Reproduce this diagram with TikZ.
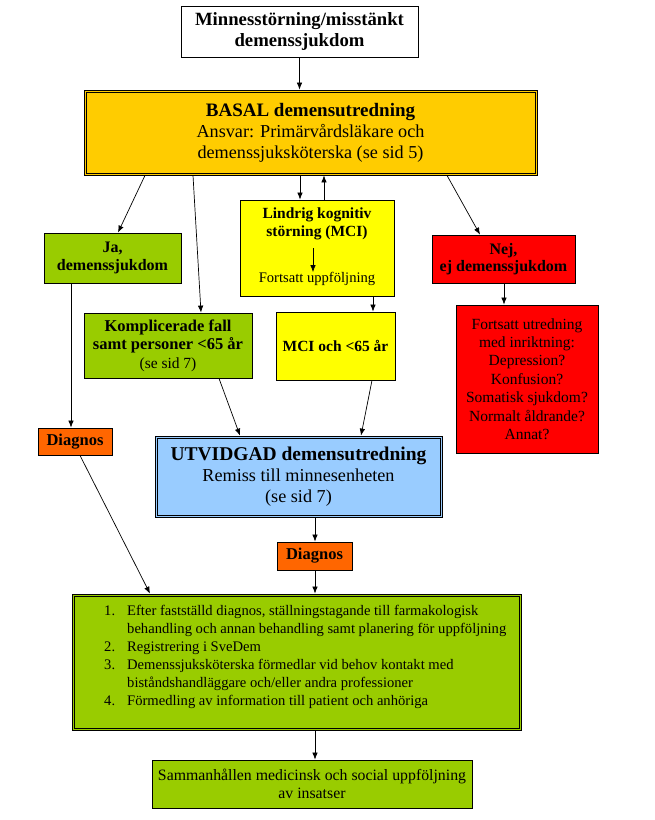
\documentclass[tikz,border=0pt]{standalone}
\usepackage{fontspec}
\setmainfont{Liberation Serif}
\usetikzlibrary{arrows.meta}
\definecolor{cgold}{HTML}{FFCC00}
\definecolor{cyel}{HTML}{FFFF00}
\definecolor{cgreen}{HTML}{99CC00}
\definecolor{cred}{HTML}{FF0000}
\definecolor{corange}{HTML}{FF6600}
\definecolor{cblue}{HTML}{99CCFF}
\newcommand\fbig{\fontsize{18.2}{21}\selectfont}
\newcommand\fbigb{\fontsize{19}{21}\selectfont\bfseries}
\newcommand\fsml{\fontsize{14.6}{17.5}\selectfont}
\newcommand\fsmb{\fontsize{15.5}{17.5}\selectfont\bfseries}
\begin{document}
\begin{tikzpicture}[x=1pt,y=-1pt,
  box/.style={draw, line width=0.8pt, inner sep=0pt, align=center, font=\fsml},
  arr/.style={line width=0.7pt, -{Latex[length=7pt,width=5.5pt]}},
  inner/.style={draw, line width=0.7pt},
  lbl/.style={inner sep=0pt, align=center, font=\fsml}]
\useasboundingbox (0,0) rectangle (655,820);
% boxes
\node[box, fill=white, minimum width=237pt, minimum height=51pt, font=\fontsize{18.7}{21.5}\selectfont\bfseries] (top) at (299.5,31.5) {Minnesstörning/misstänkt\\demenssjukdom};
\node[box, fill=cgold, minimum width=453pt, minimum height=85pt, font=\fbig] (basal) at (310.5,132.5) {{\fbigb BASAL demensutredning}\\Ansvar: Primärvårdsläkare och\\demenssjuksköterska (se sid 5)};
\draw[inner] ([shift={(2.5,2.5)}]basal.north west) rectangle ([shift={(-2.5,-2.5)}]basal.south east);
\node[box, fill=cyel, minimum width=154pt, minimum height=96pt] (mci) at (317,248) {};
\node[lbl, font=\fsmb] (mcit) at (317,224) {Lindrig kognitiv\\störning (MCI)};
\node[lbl] (mcis) at (317,279) {Fortsatt uppföljning};
\node[box, fill=cgreen, minimum width=137pt, minimum height=50pt, font=\fontsize{16}{17.5}\selectfont\bfseries] (ja) at (112.5,258) {Ja,\\demenssjukdom};
\node[box, fill=cred, minimum width=143pt, minimum height=48pt, font=\fontsize{16}{17.5}\selectfont\bfseries] (nej) at (503.5,259) {Nej,\\ej demenssjukdom};
\node[box, fill=cred, minimum width=142pt, minimum height=148pt, font=\fontsize{15.5}{18.4}\selectfont] (fort) at (527,379) {Fortsatt utredning\\med inriktning:\\Depression?\\Konfusion?\\Somatisk sjukdom?\\Normalt åldrande?\\Annat?};
\node[box, fill=cgreen, minimum width=168pt, minimum height=65pt, font=\fontsize{15.5}{18.5}\selectfont] (kompl) at (168,345.5) {{\fontsize{16.5}{18.5}\selectfont\bfseries Komplicerade fall}\\{\fontsize{16.5}{18.5}\selectfont\bfseries samt personer <65 år}\\(se sid 7)};
\node[box, fill=cyel, minimum width=119pt, minimum height=68pt, font=\fsmb] (mci65) at (335.5,346) {MCI och <65 år};
\node[box, fill=corange, minimum width=74pt, minimum height=27pt, font=\fontsize{16.5}{18}\selectfont\bfseries] (diagL) at (75,441.5) {Diagnos};
\node[box, fill=cblue, minimum width=287pt, minimum height=81pt, font=\fbig] (utv) at (298.5,476.5) {{\fontsize{19.5}{22}\selectfont\bfseries UTVIDGAD demensutredning}\\Remiss till minnesenheten\\(se sid 7)};
\draw[inner] ([shift={(2.5,2.5)}]utv.north west) rectangle ([shift={(-2.5,-2.5)}]utv.south east);
\node[box, fill=corange, minimum width=75pt, minimum height=28pt, font=\fontsize{16.5}{18}\selectfont\bfseries] (diagC) at (314.5,556) {Diagnos};
\node[box, fill=cgreen, minimum width=449pt, minimum height=136pt] (list) at (296.5,662) {};
\draw[inner] ([shift={(2.5,2.5)}]list.north west) rectangle ([shift={(-2.5,-2.5)}]list.south east);
\node[lbl, anchor=north west, align=left, font=\fontsize{14.6}{18}\selectfont] (listt) at (104,603) {%
\begin{tabular}{@{}p{23pt}@{}l@{}}
1. & Efter fastställd diagnos, ställningstagande till farmakologisk\\
   & behandling och annan behandling samt planering för uppföljning\\
2. & Registrering i SveDem\\
3. & Demenssjuksköterska förmedlar vid behov kontakt med\\
   & biståndshandläggare och/eller andra professioner\\
4. & Förmedling av information till patient och anhöriga
\end{tabular}};
\node[box, fill=cgreen, minimum width=320pt, minimum height=48pt, font=\fontsize{15.8}{18}\selectfont] (bot) at (312,784) {Sammanhållen medicinsk och social uppföljning\\av insatser};
% connectors
\draw[arr] (top.south) -- (top.south |- basal.north);
\draw[arr] (basal.south -| 300,0) -- (mci.north -| 300,0);
\draw[arr] (mci.north -| 324,0) -- (basal.south -| 324,0);
\draw[arr] (mcit.south -| 313,0) ++(0,8) -- (mcis.north -| 313,0);
\draw[arr] (basal.south -| 145,0) -- (ja.north -| 118,0);
\draw[arr] (basal.south -| 447,0) -- (nej.north -| 480,0);
\draw[arr] (basal.south -| 193,0) -- (kompl.north -| 201,0);
\draw[arr] (mci.south -| 373,0) -- (mci65.north -| 373,0);
\draw[arr] (nej.south -| 504,0) -- (fort.north -| 504,0);
\draw[arr] (ja.south -| 71,0) -- (diagL.north -| 71,0);
\draw[arr] (kompl.south -| 219,0) -- (utv.north -| 240,0);
\draw[arr] (mci65.south -| 372,0) -- (utv.north -| 361,0);
\draw[arr] (utv.south -| 315,0) -- (diagC.north -| 315,0);
\draw[arr] (diagL.south -| 80,0) -- (list.north -| 150,0);
\draw[arr] (diagC.south -| 315,0) -- (list.north -| 315,0);
\draw[arr] (list.south -| 315,0) -- (bot.north -| 315,0);
\end{tikzpicture}
\end{document}
